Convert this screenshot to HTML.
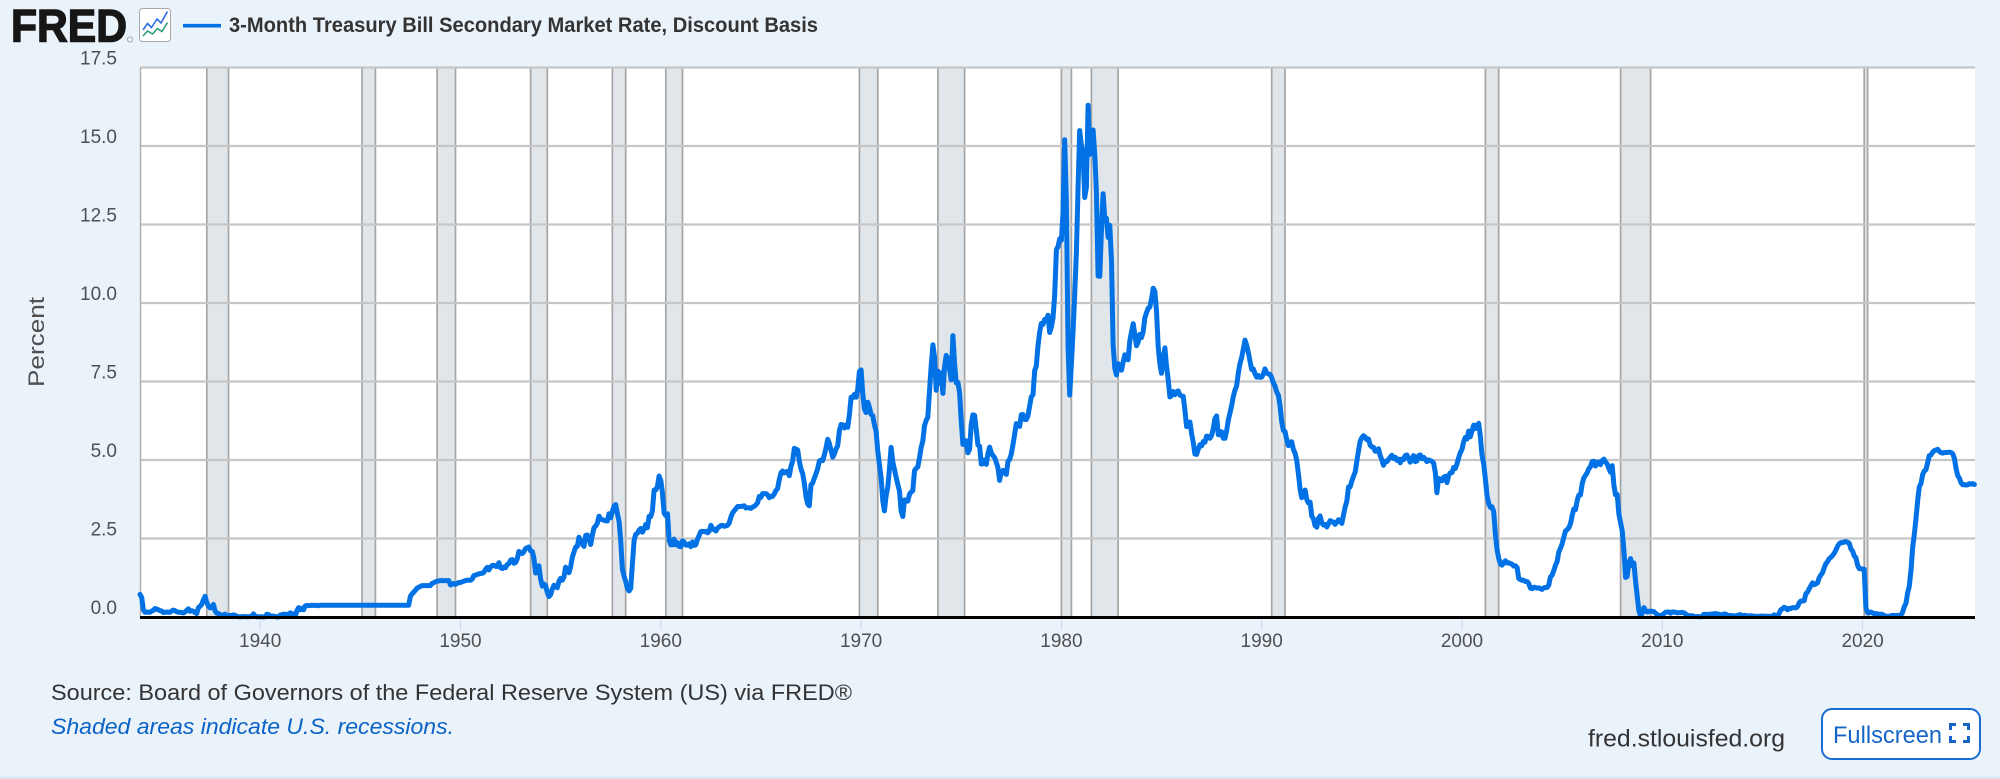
<!DOCTYPE html>
<html>
<head>
<meta charset="utf-8">
<style>
html,body{margin:0;padding:0;background:#eaf2fa;}
svg{display:block;}
text{font-family:"Liberation Sans",sans-serif;}
</style>
</head>
<body>
<svg id="chart" width="2000" height="779" viewBox="0 0 2000 779" xmlns="http://www.w3.org/2000/svg">
  <rect x="0" y="0" width="2000" height="779" fill="#eaf2fa"/>
  <rect x="0" y="776.5" width="2000" height="2.5" fill="#dbe5f0"/>

  <text x="11" y="41.7" font-size="45" font-weight="bold" fill="#161616" stroke="#161616" stroke-width="1.4" textLength="116" lengthAdjust="spacingAndGlyphs">FRED</text>
  <circle cx="130" cy="39.5" r="2.6" fill="none" stroke="#999" stroke-width="0.8"/>
  <rect x="139.5" y="8.5" width="31" height="33" rx="3" fill="#ffffff" stroke="#a8a8a8" stroke-width="1"/>
  <polyline points="143,30 147.5,23.5 151.5,27.5 157,19 161,23 167.5,11.5" fill="none" stroke="#2a6ee0" stroke-width="1.6"/>
  <polyline points="143,36 147.5,31 152.5,34 157.5,28.5 162,31.5 167.5,22.5" fill="none" stroke="#2a9d78" stroke-width="1.6"/>
  <line x1="183" y1="25.7" x2="221" y2="25.7" stroke="#0072e5" stroke-width="3.6"/>
  <text x="229" y="32" font-size="21" font-weight="bold" fill="#333333" textLength="589" lengthAdjust="spacingAndGlyphs">3-Month Treasury Bill Secondary Market Rate, Discount Basis</text>

  <rect x="140" y="67.5" width="1835" height="549.5" fill="#ffffff"/>

  <g fill="#e1e6eb" stroke="#a5a5a5" stroke-width="1.7">
    <rect x="206.8" y="67.5" width="21.7" height="549.5"/>
    <rect x="362.0" y="67.5" width="13.4" height="549.5"/>
    <rect x="437.1" y="67.5" width="18.4" height="549.5"/>
    <rect x="530.6" y="67.5" width="16.7" height="549.5"/>
    <rect x="612.4" y="67.5" width="13.3" height="549.5"/>
    <rect x="665.8" y="67.5" width="16.7" height="549.5"/>
    <rect x="859.4" y="67.5" width="18.4" height="549.5"/>
    <rect x="937.9" y="67.5" width="26.7" height="549.5"/>
    <rect x="1061.4" y="67.5" width="10.0" height="549.5"/>
    <rect x="1091.4" y="67.5" width="26.7" height="549.5"/>
    <rect x="1271.7" y="67.5" width="13.3" height="549.5"/>
    <rect x="1485.4" y="67.5" width="13.3" height="549.5"/>
    <rect x="1620.6" y="67.5" width="30.0" height="549.5"/>
    <rect x="1864.2" y="67.5" width="3.4" height="549.5"/>
  </g>

  <g stroke="#c6c6c6" stroke-width="2.2">
    <line x1="140" y1="67.5" x2="1975" y2="67.5"/>
    <line x1="140" y1="146" x2="1975" y2="146"/>
    <line x1="140" y1="224.5" x2="1975" y2="224.5"/>
    <line x1="140" y1="303" x2="1975" y2="303"/>
    <line x1="140" y1="381.5" x2="1975" y2="381.5"/>
    <line x1="140" y1="460" x2="1975" y2="460"/>
    <line x1="140" y1="538.5" x2="1975" y2="538.5"/>
  </g>
  <line x1="140.5" y1="67.5" x2="140.5" y2="617" stroke="#b0b0b0" stroke-width="1.5"/>

  <path id="series" d="" fill="none" stroke="#0072e5" stroke-width="5" stroke-linejoin="round" stroke-linecap="round"/>

  <line x1="140" y1="617.5" x2="1975" y2="617.5" stroke="#000000" stroke-width="3"/>

  <g stroke="#ccd6eb" stroke-width="1">
    <line x1="260.2" y1="619" x2="260.2" y2="630"/>
    <line x1="460.5" y1="619" x2="460.5" y2="630"/>
    <line x1="660.8" y1="619" x2="660.8" y2="630"/>
    <line x1="861.1" y1="619" x2="861.1" y2="630"/>
    <line x1="1061.4" y1="619" x2="1061.4" y2="630"/>
    <line x1="1261.7" y1="619" x2="1261.7" y2="630"/>
    <line x1="1462.0" y1="619" x2="1462.0" y2="630"/>
    <line x1="1662.3" y1="619" x2="1662.3" y2="630"/>
    <line x1="1862.6" y1="619" x2="1862.6" y2="630"/>
  </g>

  <g font-size="19" fill="#505050" text-anchor="end">
    <text x="117" y="64.5">17.5</text>
    <text x="117" y="143">15.0</text>
    <text x="117" y="221.5">12.5</text>
    <text x="117" y="300">10.0</text>
    <text x="117" y="378.5">7.5</text>
    <text x="117" y="457">5.0</text>
    <text x="117" y="535.5">2.5</text>
    <text x="117" y="614">0.0</text>
  </g>
  <text transform="translate(44,342) rotate(-90)" font-size="22" fill="#505050" text-anchor="middle" textLength="90" lengthAdjust="spacingAndGlyphs">Percent</text>

  <g font-size="19" fill="#505050" text-anchor="middle">
    <text x="260.2" y="647">1940</text>
    <text x="460.5" y="647">1950</text>
    <text x="660.8" y="647">1960</text>
    <text x="861.1" y="647">1970</text>
    <text x="1061.4" y="647">1980</text>
    <text x="1261.7" y="647">1990</text>
    <text x="1462.0" y="647">2000</text>
    <text x="1662.3" y="647">2010</text>
    <text x="1862.6" y="647">2020</text>
  </g>

  <text x="51" y="700" font-size="22" fill="#333333" textLength="801" lengthAdjust="spacingAndGlyphs">Source: Board of Governors of the Federal Reserve System (US) via FRED®</text>
  <text x="51" y="734" font-size="22" font-style="italic" fill="#0b63c6" textLength="403" lengthAdjust="spacingAndGlyphs">Shaded areas indicate U.S. recessions.</text>
  <text x="1588" y="746.7" font-size="24" fill="#333333" textLength="197" lengthAdjust="spacingAndGlyphs">fred.stlouisfed.org</text>
  <rect x="1822" y="709" width="158" height="50" rx="10" fill="#ffffff" stroke="#1a6cd0" stroke-width="2"/>
  <text x="1833" y="743" font-size="24" fill="#1565c8" textLength="109" lengthAdjust="spacingAndGlyphs">Fullscreen</text>
  <g fill="none" stroke="#1565c8" stroke-width="3">
    <polyline points="1950.5,730 1950.5,724.5 1956,724.5"/>
    <polyline points="1963,724.5 1968.5,724.5 1968.5,730"/>
    <polyline points="1950.5,736 1950.5,741.5 1956,741.5"/>
    <polyline points="1963,741.5 1968.5,741.5 1968.5,736"/>
  </g>
</svg>
<script>
(function(){
var D={
1934:[0.72,0.62,0.24,0.15,0.16,0.15,0.15,0.19,0.21,0.27,0.25,0.23],
1935:[0.20,0.19,0.14,0.15,0.16,0.15,0.15,0.19,0.22,0.20,0.17,0.15],
1936:[0.15,0.14,0.13,0.16,0.21,0.26,0.18,0.20,0.18,0.14,0.11,0.30],
1937:[0.34,0.41,0.55,0.66,0.46,0.35,0.29,0.31,0.40,0.19,0.12,0.11],
1938:[0.07,0.06,0.07,0.09,0.03,0.04,0.05,0.05,0.07,0.05,0.03,0.01],
1939:[0.01,0.01,0.02,0.01,0.01,0.01,0.02,0.03,0.10,0.03,0.01,0.01],
1940:[0.01,0.01,0.00,0.01,0.09,0.08,0.03,0.03,0.03,0.02,0.00,0.00],
1941:[0.06,0.07,0.09,0.09,0.08,0.09,0.13,0.11,0.06,0.02,0.20,0.30],
1942:[0.23,0.28,0.23,0.35,0.37,0.36,0.37,0.37,0.37,0.37,0.37,0.36],
1943:[0.375,0.375,0.375,0.375,0.375,0.375,0.375,0.375,0.375,0.375,0.375,0.375],
1944:[0.375,0.375,0.375,0.375,0.375,0.375,0.375,0.375,0.375,0.375,0.375,0.375],
1945:[0.375,0.375,0.375,0.375,0.375,0.375,0.375,0.375,0.375,0.375,0.375,0.375],
1946:[0.375,0.375,0.375,0.375,0.375,0.375,0.375,0.375,0.375,0.375,0.375,0.375],
1947:[0.376,0.376,0.376,0.376,0.376,0.376,0.66,0.74,0.79,0.85,0.92,0.95],
1948:[0.97,1.00,1.00,1.00,1.00,1.00,1.00,1.07,1.09,1.12,1.14,1.15],
1949:[1.16,1.16,1.16,1.16,1.16,1.16,1.02,1.04,1.07,1.04,1.07,1.10],
1950:[1.10,1.12,1.14,1.16,1.17,1.17,1.17,1.21,1.32,1.33,1.36,1.37],
1951:[1.39,1.39,1.42,1.52,1.58,1.50,1.59,1.64,1.65,1.61,1.61,1.73],
1952:[1.57,1.54,1.59,1.57,1.67,1.70,1.81,1.83,1.71,1.74,1.85,2.09],
1953:[2.04,2.02,2.08,2.18,2.20,2.23,2.10,2.09,1.88,1.40,1.43,1.63],
1954:[1.21,0.98,1.05,1.01,0.78,0.65,0.71,0.89,1.01,0.98,0.93,1.14],
1955:[1.23,1.17,1.28,1.59,1.45,1.41,1.60,1.90,2.07,2.23,2.25,2.54],
1956:[2.41,2.32,2.25,2.60,2.61,2.49,2.31,2.60,2.84,2.90,2.99,3.21],
1957:[3.11,3.10,3.08,3.06,3.06,3.29,3.16,3.37,3.53,3.58,3.29,3.04],
1958:[2.44,1.53,1.30,1.13,0.91,0.83,0.91,1.69,2.44,2.63,2.67,2.77],
1959:[2.82,2.70,2.80,2.95,2.84,3.21,3.20,3.38,4.04,4.05,4.15,4.49],
1960:[4.35,3.96,3.31,3.23,3.29,2.46,2.30,2.30,2.48,2.30,2.37,2.25],
1961:[2.24,2.42,2.39,2.29,2.29,2.33,2.24,2.39,2.28,2.30,2.48,2.60],
1962:[2.72,2.73,2.72,2.73,2.68,2.73,2.92,2.82,2.78,2.74,2.83,2.87],
1963:[2.91,2.92,2.89,2.90,2.92,2.99,3.18,3.32,3.38,3.45,3.52,3.52],
1964:[3.52,3.53,3.54,3.47,3.48,3.48,3.46,3.50,3.53,3.57,3.64,3.84],
1965:[3.81,3.93,3.93,3.93,3.89,3.80,3.84,3.84,3.92,4.03,4.09,4.38],
1966:[4.59,4.65,4.59,4.62,4.64,4.50,4.80,4.96,5.37,5.35,5.32,4.96],
1967:[4.72,4.56,4.26,3.84,3.60,3.54,4.21,4.27,4.42,4.56,4.73,4.97],
1968:[5.00,4.98,5.17,5.38,5.66,5.52,5.31,5.09,5.19,5.35,5.45,5.94],
1969:[6.13,6.12,6.02,6.11,6.04,6.44,7.00,6.98,7.09,7.00,7.24,7.82],
1970:[7.87,7.13,6.63,6.51,6.84,6.68,6.45,6.41,6.12,5.91,5.28,4.87],
1971:[4.44,3.70,3.38,3.86,4.14,4.75,5.40,4.94,4.69,4.46,4.22,4.01],
1972:[3.38,3.20,3.73,3.71,3.69,3.91,3.98,4.02,4.66,4.74,4.78,5.07],
1973:[5.41,5.60,6.09,6.26,6.36,7.19,8.01,8.67,8.29,7.22,7.83,7.45],
1974:[7.77,7.12,7.96,8.33,8.23,7.90,7.55,8.96,8.06,7.46,7.47,7.15],
1975:[6.26,5.50,5.49,5.61,5.23,5.34,6.13,6.44,6.42,5.96,5.48,5.44],
1976:[4.87,4.88,5.00,4.86,5.20,5.41,5.23,5.14,5.08,4.92,4.75,4.35],
1977:[4.62,4.67,4.60,4.54,4.96,5.02,5.19,5.49,5.81,6.16,6.10,6.07],
1978:[6.44,6.45,6.29,6.29,6.41,6.73,7.01,7.08,7.85,7.99,8.64,9.08],
1979:[9.35,9.32,9.48,9.46,9.61,9.06,9.24,9.52,10.26,11.70,11.79,12.04],
1980:[12.00,12.86,15.20,13.20,8.58,7.07,8.06,9.13,10.27,11.62,13.73,15.49],
1981:[15.02,14.79,13.36,13.69,16.30,14.73,14.95,15.51,14.70,13.54,10.86,10.85],
1982:[12.28,13.48,12.68,12.70,12.09,12.47,11.35,8.68,7.92,7.71,8.07,7.94],
1983:[7.86,8.11,8.35,8.21,8.19,8.79,9.08,9.34,9.00,8.64,8.76,9.00],
1984:[8.90,9.09,9.52,9.69,9.83,9.87,10.12,10.47,10.37,9.74,8.61,8.06],
1985:[7.76,8.22,8.57,8.00,7.56,7.01,7.05,7.18,7.08,7.17,7.20,7.07],
1986:[7.04,7.03,6.59,6.06,6.12,6.21,5.84,5.57,5.19,5.18,5.35,5.49],
1987:[5.45,5.59,5.56,5.76,5.75,5.69,5.78,6.00,6.32,6.40,5.81,5.80],
1988:[5.90,5.69,5.69,5.92,6.27,6.50,6.73,7.02,7.23,7.35,7.76,8.07],
1989:[8.27,8.53,8.82,8.65,8.43,8.15,7.88,7.90,7.75,7.64,7.69,7.63],
1990:[7.64,7.74,7.90,7.77,7.74,7.73,7.62,7.45,7.36,7.17,7.06,6.74],
1991:[6.22,5.94,5.91,5.65,5.46,5.57,5.58,5.33,5.22,4.99,4.56,4.07],
1992:[3.80,3.84,4.04,3.75,3.63,3.66,3.21,3.13,2.91,2.86,3.13,3.22],
1993:[3.00,2.93,2.95,2.87,2.96,3.07,3.04,3.02,2.95,3.02,3.10,3.06],
1994:[2.98,3.25,3.50,3.68,4.14,4.14,4.33,4.48,4.62,4.95,5.29,5.60],
1995:[5.71,5.77,5.73,5.65,5.67,5.47,5.42,5.40,5.28,5.28,5.36,5.14],
1996:[5.00,4.83,4.96,4.95,5.02,5.09,5.15,5.05,5.09,4.99,5.03,4.91],
1997:[5.03,5.01,5.14,5.16,5.05,4.93,5.05,5.14,4.95,4.97,5.14,5.16],
1998:[5.04,5.09,5.03,4.95,5.00,4.98,4.96,4.90,4.61,3.96,4.41,4.39],
1999:[4.34,4.45,4.48,4.28,4.51,4.59,4.60,4.76,4.73,4.88,5.07,5.23],
2000:[5.34,5.57,5.72,5.67,5.92,5.74,5.93,6.11,6.00,6.11,6.17,5.77],
2001:[5.15,4.88,4.42,3.87,3.62,3.49,3.51,3.36,2.64,2.16,1.87,1.69],
2002:[1.65,1.73,1.79,1.72,1.73,1.70,1.68,1.62,1.63,1.58,1.23,1.19],
2003:[1.17,1.17,1.13,1.13,1.07,0.92,0.90,0.95,0.94,0.92,0.93,0.90],
2004:[0.88,0.93,0.94,0.94,1.02,1.27,1.33,1.48,1.65,1.76,2.07,2.19],
2005:[2.33,2.54,2.74,2.78,2.84,2.97,3.22,3.44,3.42,3.71,3.88,3.89],
2006:[4.24,4.43,4.51,4.60,4.72,4.79,4.95,4.96,4.81,4.92,4.94,4.85],
2007:[4.98,5.03,4.94,4.87,4.73,4.61,4.82,4.20,3.89,3.90,3.27,3.00],
2008:[2.75,2.12,1.26,1.29,1.73,1.86,1.63,1.72,1.13,0.67,0.19,0.03],
2009:[0.13,0.30,0.21,0.16,0.18,0.18,0.18,0.17,0.12,0.07,0.05,0.05],
2010:[0.06,0.11,0.15,0.16,0.16,0.12,0.16,0.16,0.15,0.13,0.14,0.14],
2011:[0.15,0.13,0.10,0.06,0.04,0.04,0.04,0.02,0.01,0.02,0.01,0.01],
2012:[0.03,0.09,0.08,0.08,0.09,0.09,0.10,0.10,0.11,0.10,0.09,0.07],
2013:[0.07,0.10,0.09,0.06,0.04,0.05,0.04,0.04,0.02,0.05,0.07,0.07],
2014:[0.04,0.05,0.05,0.03,0.03,0.04,0.03,0.03,0.02,0.02,0.02,0.03],
2015:[0.03,0.02,0.03,0.02,0.02,0.02,0.03,0.07,0.02,0.02,0.12,0.23],
2016:[0.26,0.31,0.29,0.23,0.27,0.27,0.30,0.30,0.29,0.33,0.45,0.51],
2017:[0.51,0.52,0.74,0.79,0.90,0.99,1.09,1.03,1.05,1.09,1.25,1.34],
2018:[1.41,1.57,1.70,1.76,1.86,1.90,1.96,2.03,2.13,2.25,2.33,2.37],
2019:[2.37,2.39,2.40,2.38,2.35,2.17,2.10,1.95,1.89,1.65,1.54,1.54],
2020:[1.52,1.52,0.29,0.14,0.13,0.16,0.13,0.10,0.11,0.10,0.09,0.09],
2021:[0.08,0.04,0.03,0.02,0.02,0.04,0.05,0.05,0.04,0.05,0.05,0.06],
2022:[0.15,0.33,0.44,0.76,0.98,1.49,2.23,2.63,3.13,3.72,4.15,4.25],
2023:[4.54,4.65,4.69,4.92,5.14,5.16,5.25,5.30,5.32,5.34,5.27,5.24],
2024:[5.22,5.24,5.24,5.24,5.25,5.24,5.20,5.05,4.72,4.51,4.42,4.27],
2025:[4.21,4.22,4.20,4.21,4.25,4.23,4.25,4.22]
};
var s="";
for(var y=1934;y<=2025;y++){
  var a=D[y]; if(!a) continue;
  for(var m=0;m<a.length;m++){
    var t=y+m/12;
    var x=140+(t-1934)*20.03;
    var yy=617-a[m]*31.4;
    s+=(s===""?"M":"L")+x.toFixed(1)+","+yy.toFixed(1);
  }
}
document.getElementById("series").setAttribute("d",s);
})();
</script>
</body>
</html>
